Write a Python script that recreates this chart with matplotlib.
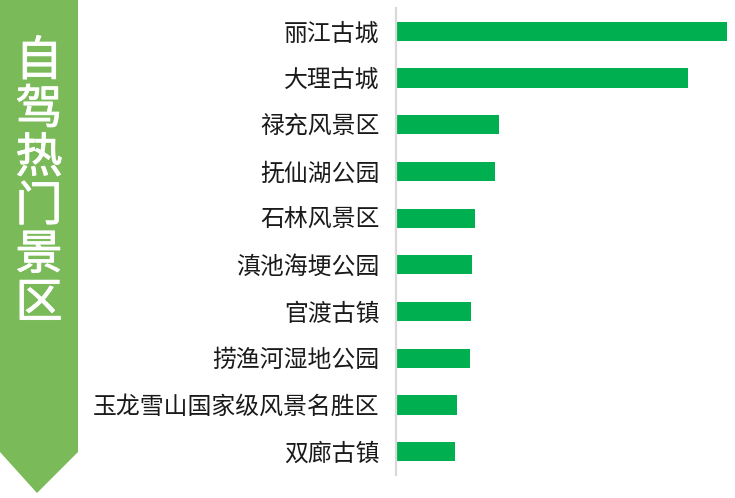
import matplotlib.pyplot as plt
from matplotlib.patches import Polygon
import matplotlib.patheffects as pe

plt.rcParams['font.family'] = ['Noto Sans CJK SC', 'DejaVu Sans']

# data (relative bar lengths)
spots = ['丽江古城', '大理古城', '禄充风景区', '抚仙湖公园', '石林风景区',
         '滇池海埂公园', '官渡古镇', '捞渔河湿地公园', '玉龙雪山国家级风景名胜区', '双廊古镇']
values = [331, 292, 103, 99, 79, 76, 75, 74, 61, 59]
title_chars = list('自驾热门景区')

W, H = 735, 498
fig = plt.figure(figsize=(W / 100, H / 100), dpi=100)

# bar chart axes, placed in pixel coords
x0, x1 = 396, 735
y_top, y_bot = 8, 475
ax = fig.add_axes([x0 / W, 1 - y_bot / H, (x1 - x0) / W, (y_bot - y_top) / H])
pos = list(range(len(spots)))
ax.barh(pos, values, height=0.41, color='#00b050')
ax.set_ylim(len(spots) - 0.5, -0.5)
ax.set_xlim(0, 339)
for s in ['top', 'right', 'bottom']:
    ax.spines[s].set_visible(False)
ax.spines['left'].set_color('#d9d9d9')
ax.spines['left'].set_linewidth(1.6)
ax.set_xticks([])
ax.set_yticks(pos)
ax.set_yticklabels(spots, fontsize=17.2, color='#1a1a1a')
ax.tick_params(axis='y', length=0, pad=12)

# green banner on the left
bg = fig.add_axes([0, 0, 1, 1], zorder=-1)
bg.set_xlim(0, W)
bg.set_ylim(H, 0)
bg.axis('off')
banner = Polygon([(0, 0), (78, 0), (78, 452), (37, 493), (0, 452)],
                 closed=True, facecolor='#7aba58', edgecolor='none')
bg.add_patch(banner)
for i, ch in enumerate(title_chars):
    bg.text(39, 62 + i * 48.4, ch, fontsize=34, color='white',
            ha='center', va='center',
            path_effects=[pe.withStroke(linewidth=0.6, foreground='white')])

fig.savefig('out.png', dpi=100)
